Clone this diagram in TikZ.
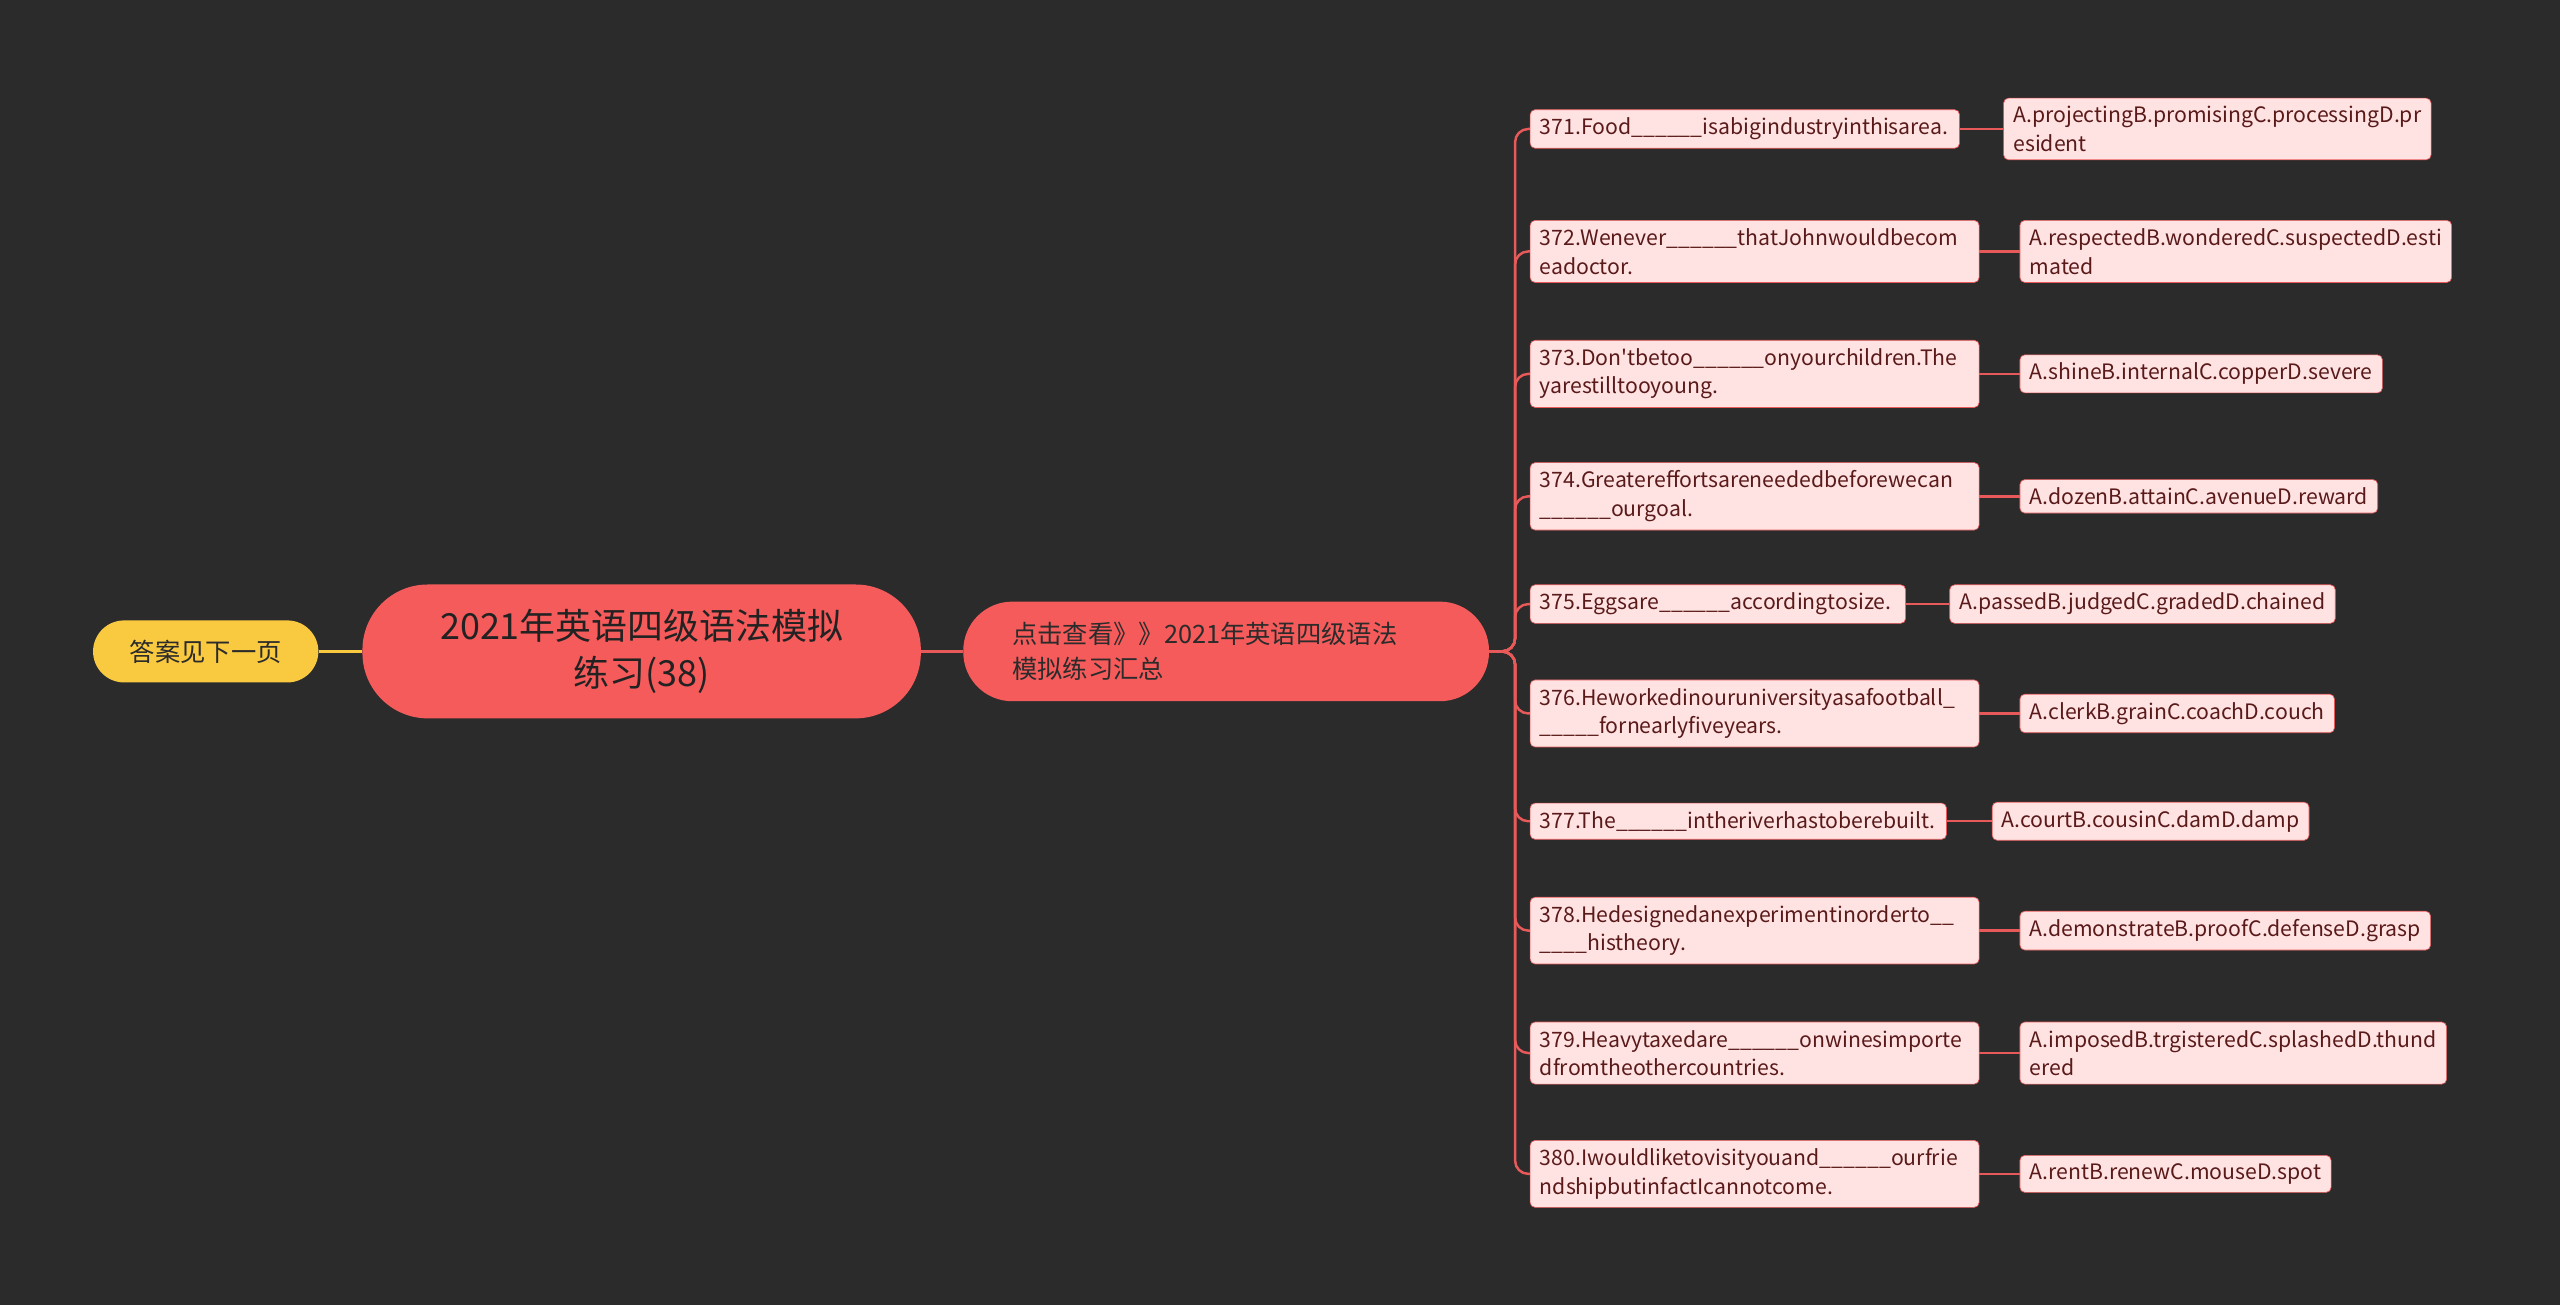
\documentclass[tikz,border=0pt]{standalone}
\usepackage{fontspec}
\setmainfont{Noto Sans CJK SC}[Ligatures=TeXOff]
\begin{document}
\begin{tikzpicture}[x=1pt,y=-1pt,
  q/.style={draw=qline,fill=qfill,rounded corners=3,anchor=west,align=left,inner xsep=6,inner ysep=5,font=\fontsize{13}{17.5}\selectfont,text=qtext},
  ln/.style={draw=qline,line width=1.5},
]
\definecolor{bg}{HTML}{2B2B2B}
\definecolor{qfill}{HTML}{FFE3E3}
\definecolor{qline}{HTML}{E85A5A}
\definecolor{qtext}{HTML}{5A1A1A}
\definecolor{rootc}{HTML}{F55B5B}
\definecolor{yel}{HTML}{F9C940}
\fill[bg] (0,0) rectangle (1568,799);
\useasboundingbox (0,0) rectangle (1568,799);
\node[fill=rootc,rounded corners=40,minimum width=342,minimum height=82,align=center,font=\fontsize{22}{29}\selectfont,text=bg!80!black] (root) at (393,399) {2021年英语四级语法模拟\\练习(38)};
\node[fill=yel,rounded corners=19,minimum width=138,minimum height=38,font=\fontsize{15.5}{18}\selectfont,text=bg] (ans) at (126,399) {答案见下一页};
\node[fill=rootc,rounded corners=30,minimum width=322,minimum height=61,text width=262,align=left,font=\fontsize{15.5}{21}\selectfont,text=bg] (mid) at (751,399) {点击查看》》2021年英语四级语法\\模拟练习汇总};
\draw[draw=yel,line width=1.5] (ans) -- (root);
\draw[ln] (root) -- (mid);
\coordinate (trunk) at (928,399);
\foreach \n/\y/\w/\qt/\ax/\at in {
 1/79/251/{371.Food\_\_\_\_\_\_isabigindustryinthisarea.}/1227/{A.projectingB.promisingC.processingD.pr\\esident},
 2/154/263/{372.Wenever\_\_\_\_\_\_thatJohnwouldbecom\\eadoctor.}/1237/{A.respectedB.wonderedC.suspectedD.esti\\mated},
 3/229/263/{373.Don'tbetoo\_\_\_\_\_\_onyourchildren.The\\yarestilltooyoung.}/1237/{A.shineB.internalC.copperD.severe},
 4/304/263/{374.Greatereffortsareneededbeforewecan\\\_\_\_\_\_\_ourgoal.}/1237/{A.dozenB.attainC.avenueD.reward},
 5/370/218/{375.Eggsare\_\_\_\_\_\_accordingtosize.}/1194/{A.passedB.judgedC.gradedD.chained},
 6/437/263/{376.Heworkedinouruniversityasafootball\_\\\_\_\_\_\_fornearlyfiveyears.}/1237/{A.clerkB.grainC.coachD.couch},
 7/503/243/{377.The\_\_\_\_\_\_intheriverhastoberebuilt.}/1220/{A.courtB.cousinC.damD.damp},
 8/570/263/{378.Hedesignedanexperimentinorderto\_\_\\\_\_\_\_histheory.}/1237/{A.demonstrateB.proofC.defenseD.grasp},
 9/645/263/{379.Heavytaxedare\_\_\_\_\_\_onwinesimporte\\dfromtheothercountries.}/1237/{A.imposedB.trgisteredC.splashedD.thund\\ered},
 10/719/263/{380.Iwouldliketovisityouand\_\_\_\_\_\_ourfrie\\ndshipbutinfactIcannotcome.}/1237/{A.rentB.renewC.mouseD.spot}}{
 \node[q,text width=\w] (q\n) at (937,\y) {\qt};
 \node[q] (a\n) at (\ax,\y) {\at};
 \draw[ln,rounded corners=8] (mid.east) -- (trunk) |- (q\n.west);
 \draw[ln] (q\n.east) -- (a\n.west);
}
\end{tikzpicture}
\end{document}
